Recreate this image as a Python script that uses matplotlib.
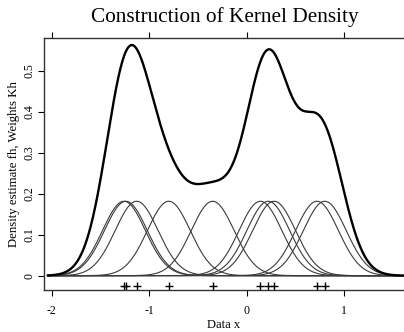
import numpy as np
import matplotlib
matplotlib.use("Agg")
import matplotlib.pyplot as plt

plt.rcParams['font.family'] = ['Liberation Serif', 'DejaVu Serif']

# observations (the crosses) and bandwidth of the Gaussian kernel
data_x = [-1.26, -1.24, -1.13, -0.80, -0.35, 0.14, 0.22, 0.28, 0.72, 0.80]
bandwidth = 0.22
x_ticks = [-2, -1, 0, 1]
x_tick_labels = ["-2", "-1", "0", "1"]
y_ticks = [0, 0.1, 0.2, 0.3, 0.4, 0.5]
y_tick_labels = ["0", "0.1", "0.2", "0.3", "0.4", "0.5"]

grid = np.linspace(-2.04, 1.7, 600)
n = len(data_x)
weights = []
for xi in data_x:
    u = (grid - xi) / bandwidth
    weights.append(np.exp(-0.5 * u**2) / np.sqrt(2 * np.pi) / bandwidth / n)
density = np.sum(weights, axis=0)

fig = plt.figure(figsize=(4.04, 3.32), dpi=100)
ax = fig.add_axes([44 / 404, 42 / 332, 370 / 404, 252.3 / 332])

for w in weights:
    ax.plot(grid, w, color="#3a3a3a", lw=0.8)
ax.plot(grid, density, color="black", lw=1.7)
ax.plot(data_x, [-0.025] * n, "+", color="black", ms=6, mew=1.0)

ax.set_xlim(-2.08, 1.715)
ax.set_ylim(-0.035, 0.58)
ax.spines['right'].set_visible(False)
for s in ['left', 'bottom', 'top']:
    ax.spines[s].set_linewidth(1.0)
    ax.spines[s].set_color("#333333")

ax.set_xticks(x_ticks)
ax.set_xticklabels(x_tick_labels)
ax.set_yticks(y_ticks)
ax.set_yticklabels(y_tick_labels, rotation=90, va="center")
ax.tick_params(axis='both', direction='out', length=4, width=0.8,
               labelsize=8.5, pad=2)
ax.tick_params(axis='x', top=True, pad=7)
ax.tick_params(axis='x', which='major', labeltop=False)

fig.text(224 / 404, 1 - 325 / 332, "Data x", ha="center", va="center",
         fontsize=9)
ax.set_ylabel("Density estimate fh, Weights Kh", fontsize=9.2, labelpad=3)
fig.text(225 / 404, 1 - 17 / 332, "Construction of Kernel Density",
         ha="center", va="center", fontsize=15.3)

fig.savefig("out.png", dpi=100)
plt.close()
